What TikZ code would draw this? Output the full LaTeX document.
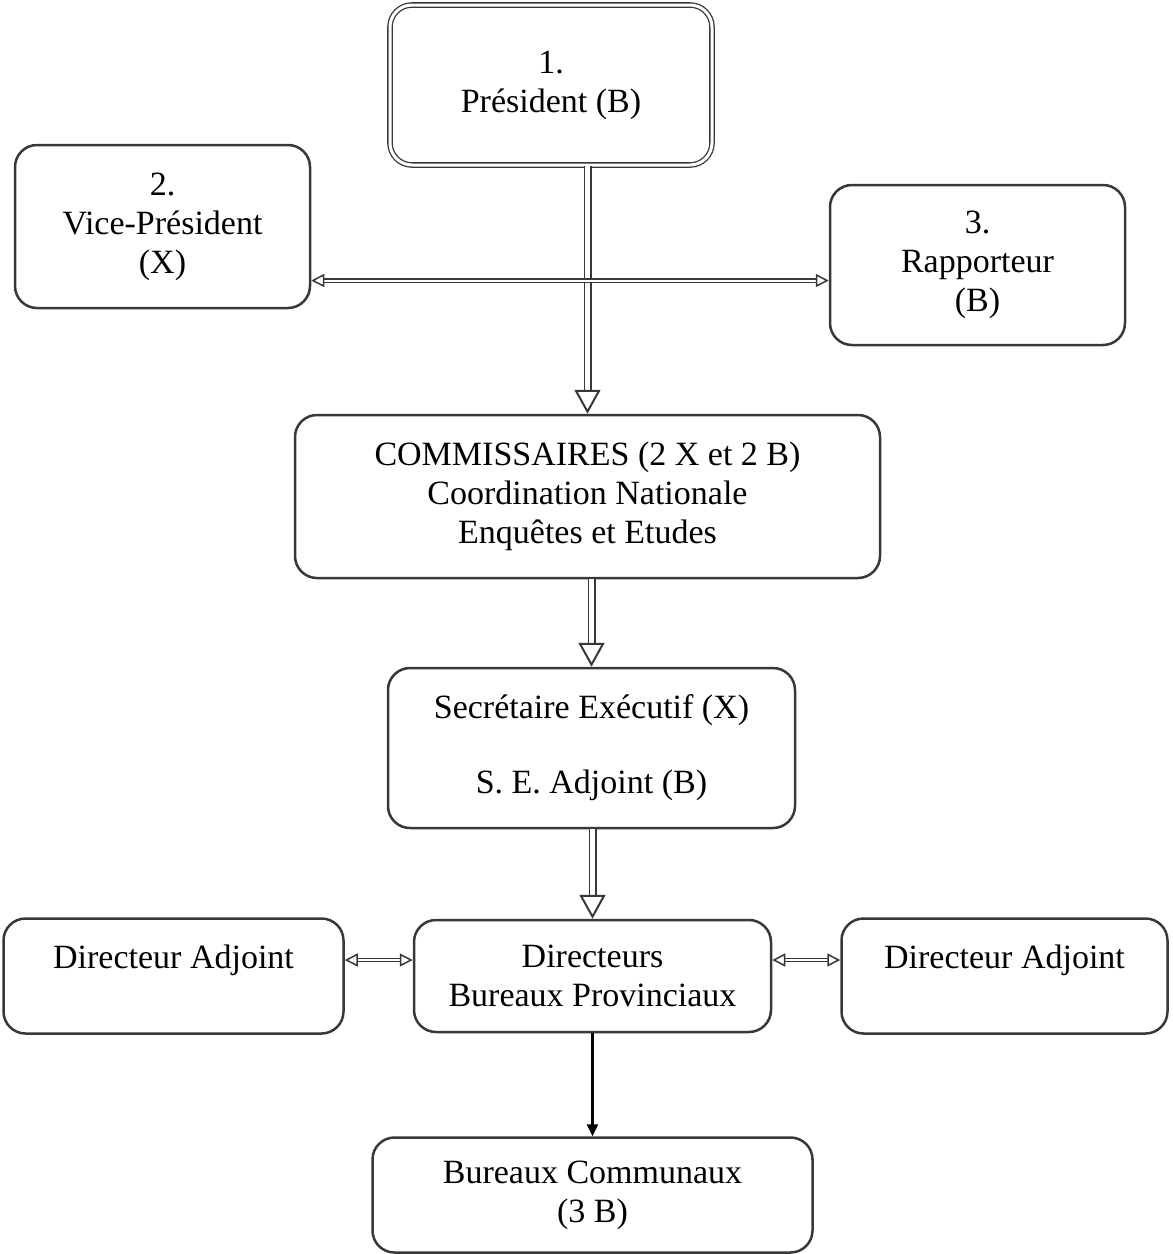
\documentclass[tikz,border=0pt]{standalone}
\usepackage{fontspec}
\setmainfont{Liberation Serif}
\usepackage{tikz}
\usetikzlibrary{arrows.meta,positioning}
\definecolor{scan}{gray}{0.22}
\tikzset{
    auto,node distance =103pt and 68pt,
    box/.style ={rectangle, rounded corners=22pt, draw=scan, line width=2.5pt, align=center, font=\fontsize{34}{39}\selectfont, inner sep=4pt},
    chief/.style = {box, double, double distance=3pt, line width=1.3pt},
    big/.style = {draw=scan, double, double distance=5pt, line width=1.5pt, -{Triangle[open, length=24pt, width=26pt, line width=2pt]}},
    bidirected/.style = {draw=scan, double, double distance=2pt, line width=1.2pt, {Triangle[open, length=13pt, width=13pt, line width=1.5pt]}-{Triangle[open, length=13pt, width=13pt, line width=1.5pt]}},
    thin/.style = {draw=black, line width=2.5pt, -{Triangle[length=12pt, width=11pt]}}
}

\begin{document}
\begin{tikzpicture}[x=1pt,y=-1pt]
        \useasboundingbox (0,0) rectangle (1173,1254);

        \node[chief, minimum width=322pt, minimum height=160pt] (pres) at (551, 85) {1.\\Président (B)};
        \node[box, minimum width=295pt, minimum height=163pt] (vice) at (162.5, 226.5) {2.\\Vice-Président\\(X)};
        \node[box, minimum width=295pt, minimum height=160pt] (rapp) at (977.5, 265) {3.\\Rapporteur\\(B)};
        \node[box, minimum width=585pt, minimum height=163pt] (comm) at (587.5, 496.5) {COMMISSAIRES (2 X et 2 B)\\Coordination Nationale\\Enquêtes et Etudes};
        \node[box, minimum width=407pt, minimum height=160pt] (secr) at (591.5, 748) {Secrétaire Exécutif (X)\\[36pt]S. E. Adjoint (B)};
        \node[box, minimum width=357pt, minimum height=112pt] (dirp) at (592.5, 976) {Directeurs\\Bureaux Provinciaux};
        \node[box, minimum width=340pt, minimum height=115pt] (adjl) [left =of dirp] {Directeur Adjoint\\ \mbox{}};
        \node[box, minimum width=326pt, minimum height=115pt] (adjr) [right =of dirp] {Directeur Adjoint\\ \mbox{}};
        \node[box, minimum width=440pt, minimum height=115pt] (bcom) [below =of dirp] {Bureaux Communaux\\(3 B)};

        \draw[big] (pres.south -| comm.north) -- (comm.north);
        \draw[bidirected] ([yshift=-54pt]vice.east) -- ([yshift=-54pt]vice.east -| rapp.west);
        \draw[big] (comm.south -| secr.north) -- (secr.north);
        \draw[big] (secr.south -| dirp.north) -- (dirp.north);
        \draw[bidirected] ([yshift=16pt]adjl.east) -- ([yshift=16pt]dirp.west);
        \draw[bidirected] ([yshift=16pt]dirp.east) -- ([yshift=16pt]adjr.west);
        \draw[thin] (dirp.south -| bcom.north) -- (bcom.north);
    \end{tikzpicture}
\end{document}
